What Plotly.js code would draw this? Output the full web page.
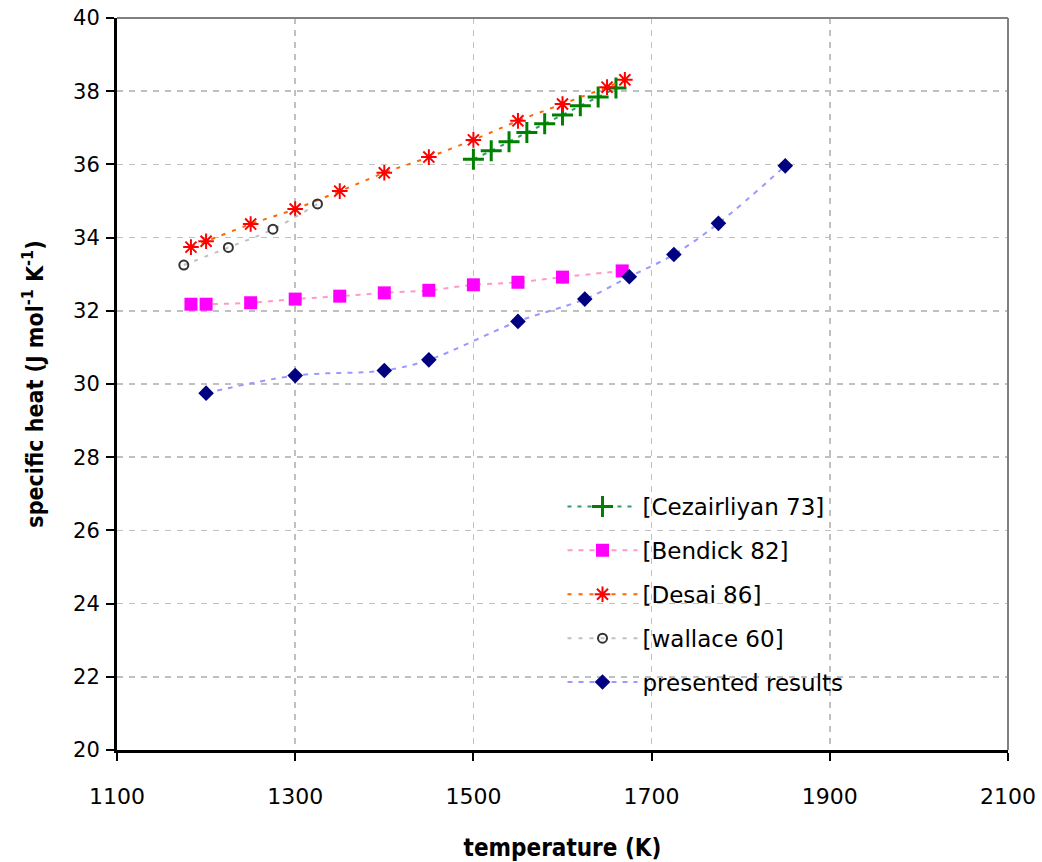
<!DOCTYPE html>
<html>
<head>
<meta charset="utf-8">
<script src="https://cdn.plot.ly/plotly-3.0.1.min.js"></script>
<style>html,body{margin:0;padding:0;background:#fff;}#chart{width:1042px;height:862px;}</style>
</head>
<body>
<div id="chart"></div>
<script>
// Data
var cezT = [1500, 1520, 1540, 1560, 1580, 1600, 1620, 1640, 1660];
var cezCp = [36.14, 36.37, 36.62, 36.87, 37.11, 37.35, 37.60, 37.84, 38.09];

var benT = [1183, 1200, 1250, 1300, 1350, 1400, 1450, 1500, 1550, 1600, 1667];
var benCp = [32.18, 32.18, 32.22, 32.32, 32.40, 32.49, 32.56, 32.71, 32.78, 32.92, 33.09];

var desT = [1183, 1200, 1250, 1300, 1350, 1400, 1450, 1500, 1550, 1600, 1650, 1670];
var desCp = [33.74, 33.90, 34.37, 34.78, 35.27, 35.77, 36.20, 36.67, 37.19, 37.65, 38.11, 38.31];

var walT = [1175, 1225, 1275, 1325];
var walCp = [33.25, 33.73, 34.23, 34.92];

var preT = [1200, 1300, 1400, 1450, 1550, 1625, 1675, 1725, 1775, 1850];
var preCp = [29.75, 30.23, 30.37, 30.66, 31.71, 32.32, 32.93, 33.54, 34.39, 35.96];

var seriesNames = ['[Cezairliyan 73]', '[Bendick 82]', '[Desai 86]', '[wallace 60]', 'presented results'];
var xTicks = [1100, 1300, 1500, 1700, 1900, 2100];
var yTicks = [20, 22, 24, 26, 28, 30, 32, 34, 36, 38, 40];

var traces = [
  {x: cezT, y: cezCp, name: seriesNames[0], legendgroup: 'a', mode: 'lines+markers',
   line: {color: '#339966', width: 2, dash: '4px,6px', shape: 'spline'},
   marker: {symbol: 'cross-thin-open', size: 15, color: '#008000', line: {color: '#008000', width: 3}}},
  {x: benT, y: benCp, name: seriesNames[1], legendgroup: 'b', mode: 'lines+markers',
   line: {color: '#FF99CC', width: 2, dash: '5px,6px', shape: 'spline'},
   marker: {symbol: 'square', size: 13, color: '#FF00FF'}},
  {x: desT, y: desCp, name: seriesNames[2], legendgroup: 'c', mode: 'lines+markers',
   line: {color: '#FF6600', width: 2, dash: '4px,7px', shape: 'spline'},
   marker: {symbol: 'asterisk-open', size: 13, color: '#FF0000', line: {color: '#FF0000', width: 2}}},
  {x: walT, y: walCp, name: seriesNames[3], legendgroup: 'd', mode: 'lines+markers',
   line: {color: '#C0C0C0', width: 2, dash: '4px,7px', shape: 'spline'},
   marker: {symbol: 'circle-open', size: 9, color: '#333333', line: {color: '#333333', width: 2}}},
  {x: preT, y: preCp, name: seriesNames[4], legendgroup: 'e', mode: 'lines+markers',
   line: {color: '#9999FF', width: 2, dash: '5px,6px', shape: 'spline'},
   marker: {symbol: 'diamond', size: 12, color: '#000080'}}
];

var layout = {
  width: 1042, height: 862,
  paper_bgcolor: '#ffffff', plot_bgcolor: '#ffffff',
  margin: {l: 117, r: 34, t: 18, b: 112},
  showlegend: true,
  legend: {x: 0.5, y: 0.362, xanchor: 'left', yanchor: 'top', bgcolor: 'rgba(0,0,0,0)',
           font: {family: 'DejaVu Sans, Verdana, sans-serif', size: 23, color: '#000'},
           itemwidth: 70, tracegroupgap: 11, traceorder: 'grouped'},
  xaxis: {range: [1100, 2100], tickvals: xTicks, ticktext: xTicks.map(String),
          showgrid: true, gridcolor: '#C0C0C0', griddash: '6px,6px', gridwidth: 1.5,
          zeroline: false, showline: true, linecolor: '#000', linewidth: 3,
          ticks: 'outside', ticklen: 8, tickwidth: 2, tickcolor: '#000', ticklabelstandoff: 17,
          tickfont: {family: 'DejaVu Sans, Verdana, sans-serif', size: 22, color: '#000'},
          title: {text: '<b>temperature (K)</b>', standoff: 34,
                  font: {family: 'Liberation Sans Narrow, Arial Narrow, DejaVu Sans Condensed, sans-serif', size: 24, color: '#000'}}},
  yaxis: {range: [20, 40], tickvals: yTicks, ticktext: yTicks.map(String),
          showgrid: true, gridcolor: '#C0C0C0', griddash: '6px,6px', gridwidth: 1.5,
          zeroline: false, showline: true, linecolor: '#000', linewidth: 3,
          ticks: 'outside', ticklen: 8, tickwidth: 2, tickcolor: '#000', ticklabelstandoff: 2,
          tickfont: {family: 'DejaVu Sans, Verdana, sans-serif', size: 21, color: '#000'},
          title: {text: '<b>specific heat (J mol<sup>-1</sup> K<sup>-1</sup>)</b>', standoff: 24,
                  font: {family: 'Liberation Sans Narrow, Arial Narrow, DejaVu Sans Condensed, sans-serif', size: 23, color: '#000'}}},
  shapes: [
    {type: 'line', xref: 'paper', yref: 'paper', x0: 0, x1: 1, y0: 1, y1: 1, line: {color: '#808080', width: 2}},
    {type: 'line', xref: 'paper', yref: 'paper', x0: 1, x1: 1, y0: 0, y1: 1, line: {color: '#808080', width: 2}}
  ]
};

Plotly.newPlot('chart', traces, layout, {displayModeBar: false, staticPlot: true});
</script>
</body>
</html>
